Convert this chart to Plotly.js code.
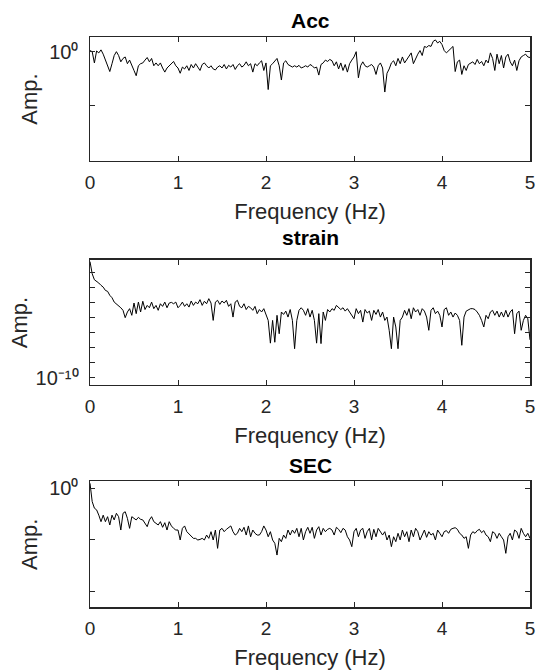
<!DOCTYPE html>
<html>
<head>
<meta charset="utf-8">
<script src="https://cdn.plot.ly/plotly-3.0.1.min.js"></script>
<style>html,body{margin:0;padding:0;background:#fff;}</style>
</head>
<body>
<div id="chart" style="width:537px;height:670px;"></div>
<script>
// ---- data ----
const panelTitles = ["Acc", "strain", "SEC"];
const xAxisLabel = "Frequency (Hz)";
const yAxisLabel = "Amp.";
const freqStep = 0.025; // Hz between spectrum samples
const xTickValues = [0, 1, 2, 3, 4, 5];
const xTickLabels = ["0", "1", "2", "3", "4", "5"];

// labelled y ticks
const accTickValues = [1];
const accTickLabels = ["10\u2070"];
const strainTickValues = [1e-10];
const strainTickLabels = ["10\u207B\u00B9\u2070"];
const secTickValues = [1];
const secTickLabels = ["10\u2070"];
// unlabelled y ticks
const accMinorTicks = [0.1, 0.01];
const strainMinorTicks = [1e-9, 1e-8, 1e-7, 1e-6, 1e-5, 1e-4, 1e-3];
const secMinorTicks = [0.1, 0.01];

const accAmp = [
1.05,1.0,0.62,1.03,0.95,1.08,0.90,0.70,0.55,0.43,
0.60,0.85,1.0,0.85,0.65,0.75,0.80,0.60,0.70,0.58,
0.45,0.36,0.55,0.60,0.62,0.70,0.78,0.65,0.75,0.55,
0.62,0.55,0.62,0.50,0.42,0.50,0.55,0.62,0.66,0.55,
0.50,0.40,0.52,0.48,0.55,0.45,0.58,0.50,0.60,0.52,
0.45,0.58,0.62,0.55,0.50,0.55,0.48,0.46,0.52,0.55,
0.50,0.58,0.48,0.56,0.52,0.58,0.47,0.55,0.60,0.52,
0.56,0.65,0.55,0.60,0.42,0.60,0.55,0.62,0.68,0.45,
0.62,0.20,0.55,0.60,0.68,0.75,0.55,0.30,0.62,0.68,
0.58,0.55,0.52,0.55,0.52,0.56,0.50,0.52,0.55,0.52,
0.58,0.55,0.50,0.52,0.37,0.58,0.62,0.70,0.66,0.72,
0.68,0.55,0.65,0.48,0.62,0.45,0.58,0.42,0.60,0.70,
0.80,1.0,0.33,0.55,0.65,0.55,0.52,0.55,0.58,0.52,
0.38,0.55,0.62,0.50,0.18,0.40,0.48,0.62,0.68,0.55,
0.75,0.60,0.80,0.62,0.72,0.85,0.95,0.60,0.75,0.90,
1.05,0.85,1.25,1.20,1.30,1.25,1.55,1.65,1.45,1.55,
1.35,1.05,0.95,1.05,1.15,1.25,0.43,0.65,0.70,0.38,
0.55,0.45,0.58,0.62,0.65,0.58,0.72,0.60,0.66,0.55,
0.70,0.62,0.95,0.75,0.45,0.90,0.60,0.85,0.50,0.80,
0.90,0.65,0.55,0.70,0.45,0.68,0.80,0.85,0.90,0.80,
0.78];

const strainAmp = [
5.5e-3,8.5e-4,3.4e-4,2.8e-4,2.05e-4,1.44e-4,1.1e-4,6.6e-5,5.7e-5,3.1e-5,
2.15e-5,1.1e-5,8.5e-6,6.6e-6,4.6e-6,3.1e-6,1.0e-6,2.4e-6,4.0e-6,1.44e-6,
9.5e-6,1.86e-6,1.1e-5,2.4e-6,1.25e-5,3.5e-6,6.6e-6,4.6e-6,1.1e-5,4.0e-6,
6.6e-6,3.1e-6,8.5e-6,5.7e-6,1.1e-5,4.6e-6,9.5e-6,1.05e-5,8.5e-6,1.1e-5,
4.6e-6,6.6e-6,1.1e-5,5.7e-6,8.5e-6,5.1e-6,1.3e-5,6.6e-6,1.1e-5,8.5e-6,
1.6e-5,6.6e-6,1.25e-5,8.5e-6,1.86e-5,9.5e-6,6.6e-7,1.1e-5,1.44e-5,7.7e-6,
1.3e-5,9.5e-6,1.44e-5,5.7e-6,8.5e-6,1.1e-6,1.1e-5,1.44e-5,5.7e-6,4.6e-6,
8.5e-6,3.5e-6,5.7e-6,4.6e-6,3.1e-6,5.7e-6,1.86e-6,3.5e-6,2.4e-6,4.0e-6,
1.44e-6,6.6e-7,2.0e-8,6.6e-7,2.3e-8,1.44e-6,8.5e-8,2.4e-6,1.65e-6,2.75e-6,
1.1e-6,3.5e-6,6.6e-7,8.5e-9,6.6e-7,3.1e-6,4.6e-6,3.1e-6,1.44e-6,4.0e-6,
1.1e-6,3.1e-6,6.6e-7,2.0e-8,1.86e-6,1.86e-8,2.4e-6,6.6e-7,3.5e-6,2.4e-6,
4.0e-6,3.1e-6,6.6e-6,4.6e-6,3.5e-6,4.6e-6,2.75e-6,4.0e-6,2.4e-6,1.44e-6,
8.5e-7,4.0e-6,1.86e-6,3.1e-6,5.1e-7,3.5e-6,2.05e-6,2.75e-6,6.6e-7,3.1e-6,
1.65e-6,3.5e-6,1.1e-6,2.4e-6,6.6e-7,1.1e-6,1.44e-7,8.5e-9,1.1e-6,2.4e-7,
8.5e-9,6.6e-7,1.1e-6,3.1e-6,1.44e-6,4.0e-6,8.5e-7,4.6e-6,2.4e-6,3.5e-6,
1.44e-6,4.0e-6,2.75e-6,1.1e-6,1.44e-7,3.1e-6,4.6e-6,1.86e-6,2.75e-6,1.44e-6,
2.4e-7,3.5e-6,4.6e-6,1.44e-6,2.4e-6,1.1e-6,2.05e-6,1.44e-6,6.6e-7,1.44e-8,
1.1e-6,2.75e-6,3.5e-6,4.0e-6,4.0e-6,3.5e-6,2.4e-6,1.44e-6,6.6e-7,2.4e-7,
1.44e-6,8.5e-7,2.4e-6,3.1e-6,1.44e-6,2.75e-6,1.1e-6,2.4e-6,1.1e-6,3.1e-6,
1.1e-6,2.4e-6,3.5e-6,8.5e-8,1.86e-6,2.75e-6,1.44e-7,6.6e-7,1.44e-6,8.5e-7,
3.3e-8];

const secAmp = [
1.25,0.55,0.41,0.38,0.30,0.224,0.30,0.224,0.28,0.193,
0.30,0.242,0.326,0.28,0.154,0.326,0.35,0.26,0.166,0.28,
0.26,0.242,0.272,0.249,0.242,0.208,0.179,0.242,0.28,0.224,
0.208,0.193,0.224,0.174,0.214,0.154,0.224,0.185,0.166,0.154,
0.154,0.0986,0.166,0.185,0.143,0.129,0.114,0.106,0.106,0.0986,
0.101,0.106,0.0986,0.123,0.106,0.143,0.0986,0.154,0.0678,0.154,
0.166,0.143,0.159,0.174,0.185,0.143,0.123,0.133,0.166,0.143,
0.174,0.123,0.185,0.114,0.154,0.133,0.123,0.123,0.143,0.185,
0.154,0.114,0.143,0.0986,0.085,0.0502,0.106,0.0914,0.123,0.106,
0.154,0.123,0.154,0.133,0.166,0.114,0.166,0.0986,0.143,0.174,
0.133,0.174,0.106,0.154,0.179,0.123,0.166,0.143,0.159,0.166,
0.154,0.123,0.174,0.159,0.137,0.166,0.154,0.114,0.0986,0.0731,
0.143,0.166,0.114,0.154,0.166,0.106,0.143,0.166,0.0986,0.159,
0.114,0.166,0.143,0.123,0.143,0.0986,0.123,0.0731,0.114,0.0914,
0.133,0.0986,0.154,0.114,0.143,0.0914,0.154,0.114,0.166,0.143,
0.0986,0.123,0.154,0.111,0.143,0.123,0.133,0.0986,0.154,0.133,
0.114,0.143,0.150,0.133,0.159,0.166,0.171,0.159,0.133,0.123,
0.106,0.114,0.0678,0.123,0.143,0.133,0.150,0.159,0.137,0.150,
0.123,0.114,0.0914,0.143,0.133,0.106,0.133,0.114,0.0986,0.0542,
0.114,0.133,0.0986,0.154,0.143,0.106,0.166,0.133,0.114,0.133,
0.106];

// sample grid of the spectrum
const freq = accAmp.map((_, i) => +(i * freqStep).toFixed(3));

// ---- styling ----
const ink = "#262626";
const fontFamily = '"Liberation Sans", Arial, Helvetica, sans-serif';

function xAxis(anchor) {
  return {
    anchor: anchor, domain: [0, 1], range: [0, 5],
    title: {text: xAxisLabel, font: {family: fontFamily, size: 22, color: ink}, standoff: 11},
    automargin: false,
    tickmode: "array", tickvals: xTickValues, ticktext: xTickLabels,
    ticks: "inside", ticklen: 5, tickwidth: 1, tickcolor: ink,
    showline: true, linecolor: ink, linewidth: 1.5, mirror: "allticks",
    showgrid: false, zeroline: false, fixedrange: true,
    tickfont: {family: fontFamily, size: 19, color: ink},
    ticklabelstandoff: 4
  };
}
function yAxis(anchor, domain, range, vals, labels, minorVals, standoff) {
  return {
    anchor: anchor, domain: domain, type: "log", range: range,
    title: {text: yAxisLabel, font: {family: fontFamily, size: 22, color: ink}, standoff: standoff},
    automargin: false,
    tickmode: "array", tickvals: vals, ticktext: labels,
    ticks: "inside", ticklen: 5, tickwidth: 1, tickcolor: ink,
    minor: {tickmode: "array", tickvals: minorVals, ticks: "inside", ticklen: 5, tickwidth: 1, tickcolor: ink, showgrid: false},
    showline: true, linecolor: ink, linewidth: 1.5, mirror: "allticks",
    showgrid: false, zeroline: false, fixedrange: true,
    tickfont: {family: fontFamily, size: 20, color: ink},
    ticklabelstandoff: 6
  };
}

const lineStyle = {color: "#000000", width: 1};
const traces = [
  {x: freq, y: accAmp, xaxis: "x", yaxis: "y", type: "scatter", mode: "lines", line: lineStyle, name: panelTitles[0]},
  {x: freq, y: strainAmp, xaxis: "x2", yaxis: "y2", type: "scatter", mode: "lines", line: lineStyle, name: panelTitles[1]},
  {x: freq, y: secAmp, xaxis: "x3", yaxis: "y3", type: "scatter", mode: "lines", line: lineStyle, name: panelTitles[2]}
];

function label(text, x, y, opts) {
  return Object.assign({
    text: text, x: x, y: y, xref: "paper", yref: "paper",
    xanchor: "center", yanchor: "middle", showarrow: false,
    font: {family: fontFamily, size: 21, color: "#000"}
  }, opts || {});
}

const layout = {
  width: 537, height: 670,
  margin: {l: 90, r: 7, t: 37, b: 63, pad: 0},
  paper_bgcolor: "#ffffff", plot_bgcolor: "#ffffff",
  showlegend: false,
  font: {family: fontFamily, color: ink},
  xaxis: xAxis("y"),
  yaxis: yAxis("x", [0.7825, 1.0], [-2.017, 0.271], accTickValues, accTickLabels, accMinorTicks, 5),
  xaxis2: xAxis("y2"),
  yaxis2: yAxis("x2", [0.3895, 0.6088], [-10.49, -2.15], strainTickValues, strainTickLabels, strainMinorTicks, 2),
  xaxis3: xAxis("y3"),
  yaxis3: yAxis("x3", [0.0, 0.2202], [-2.31, 0.132], secTickValues, secTickLabels, secMinorTicks, 5),
  annotations: [
    label("<b>" + panelTitles[0] + "</b>", 0.5, 1.0298),
    label("<b>" + panelTitles[1] + "</b>", 0.5, 0.6474),
    label("<b>" + panelTitles[2] + "</b>", 0.5, 0.2491)
  ]
};

Plotly.newPlot("chart", traces, layout, {staticPlot: true, displayModeBar: false});
</script>
</body>
</html>
